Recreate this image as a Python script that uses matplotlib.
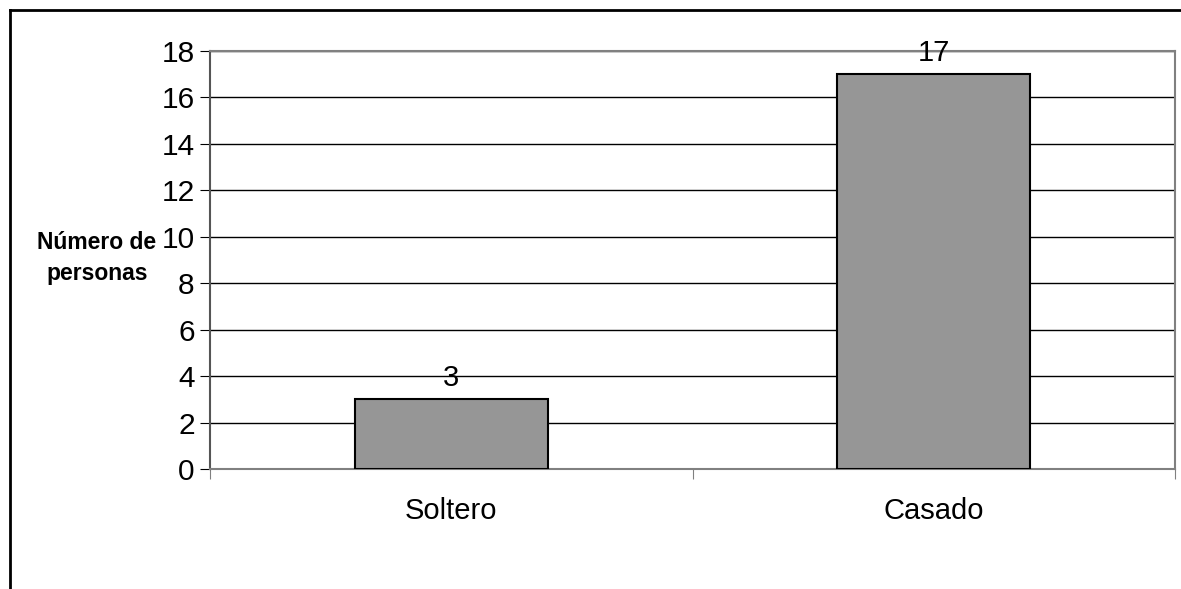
import matplotlib
matplotlib.use("Agg")
import matplotlib.pyplot as plt
from matplotlib.lines import Line2D

categories = ["Soltero", "Casado"]
values = [3, 17]
yticks = [0, 2, 4, 6, 8, 10, 12, 14, 16, 18]

plt.rcParams["font.family"] = ["Liberation Sans", "DejaVu Sans"]

W, H = 1181, 589
fig = plt.figure(figsize=(W / 100, H / 100), dpi=100)
fig.patch.set_facecolor("white")

# Outer chart frame (top and left edges visible)
fig.add_artist(Line2D([10 / W, 10 / W], [0, 1 - 10 / H], color="black", lw=2,
                      transform=fig.transFigure))
fig.add_artist(Line2D([10 / W, 1], [1 - 10 / H, 1 - 10 / H], color="black", lw=2,
                      transform=fig.transFigure))

left, right, top, bottom = 210, 1175, 51, 469
ax = fig.add_axes([left / W, 1 - bottom / H, (right - left) / W, (bottom - top) / H])

x = list(range(len(categories)))
bars = ax.bar(x, values, width=0.4, color="#969696", edgecolor="black", linewidth=1.5, zorder=3)

ax.set_xlim(-0.5, len(categories) - 0.5)
ax.set_ylim(0, 18)
ax.set_yticks(yticks)
ax.set_yticklabels([str(t) for t in yticks], fontsize=21.5)
ax.yaxis.grid(True, color="black", linewidth=1, zorder=0)
ax.set_axisbelow(True)

# Category labels centered, tick marks at category boundaries
ax.set_xticks([i - 0.5 for i in range(len(categories) + 1)])
ax.set_xticklabels([])
ax.set_xticks(x, minor=True)
ax.set_xticklabels(categories, minor=True, fontsize=21)
ax.tick_params(axis="x", which="minor", length=0, pad=20)
ax.tick_params(axis="x", which="major", length=7, color="#808080", direction="out")
ax.tick_params(axis="y", length=7, color="black", direction="out", pad=4)

for s in ["top", "right"]:
    ax.spines[s].set_color("#808080")
    ax.spines[s].set_linewidth(1.5)
ax.spines["left"].set_color("#555555")
ax.spines["left"].set_linewidth(1.5)
ax.spines["bottom"].set_color("#808080")
ax.spines["bottom"].set_linewidth(1.5)

for b, v in zip(bars, values):
    ax.annotate(str(v), (b.get_x() + b.get_width() / 2, v), xytext=(0, 5),
                textcoords="offset points", ha="center", va="bottom", fontsize=21)

fig.text(97 / W, 1 - 258 / H, "Número de\npersonas", ha="center", va="center",
         fontsize=16.5, fontweight="bold", linespacing=1.45)

fig.savefig("out.png", dpi=100, facecolor="white")
